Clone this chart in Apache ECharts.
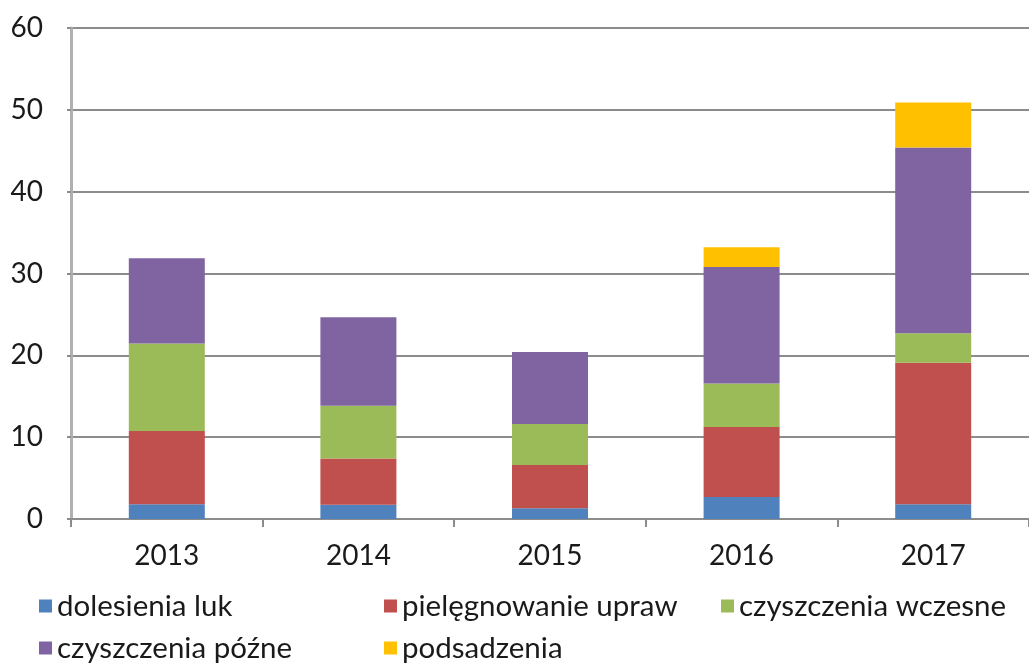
<!DOCTYPE html>
<html>
<head>
<meta charset="utf-8">
<script src="https://cdn.jsdelivr.net/npm/echarts@6/dist/echarts.min.js"></script>
<style>html,body{margin:0;padding:0;background:#fff}#c{width:1029px;height:666px}</style>
</head>
<body>
<div id="c"></div>
<script>
const categories = ['2013', '2014', '2015', '2016', '2017'];
const seriesNames = ['dolesienia luk', 'pielęgnowanie upraw', 'czyszczenia wczesne', 'czyszczenia późne', 'podsadzenia'];
const dolesieniaLuk = [1.8, 1.75, 1.3, 2.7, 1.8];
const pielegnowanieUpraw = [8.95, 5.65, 5.3, 8.55, 17.3];
const czyszczeniaWczesne = [10.7, 6.45, 5.0, 5.3, 3.6];
const czyszczeniaPozne = [10.4, 10.8, 8.8, 14.25, 22.7];
const podsadzenia = [0, 0, 0, 2.4, 5.5];
const yTicks = [0, 10, 20, 30, 40, 50, 60];

const colors = ['#4F81BD', '#C0504D', '#9BBB59', '#8064A2', '#FFC000'];
const values = [dolesieniaLuk, pielegnowanieUpraw, czyszczeniaWczesne, czyszczeniaPozne, podsadzenia];
const font = 'Lato, "DejaVu Sans", sans-serif';

const legendPos = [
  {left: 39, top: 591}, {left: 384, top: 591}, {left: 721, top: 591},
  {left: 39, top: 633}, {left: 384, top: 633}
];

const chart = echarts.init(document.getElementById('c'), null, {renderer: 'canvas'});
chart.setOption({
  animation: false,
  backgroundColor: '#ffffff',
  color: colors,
  grid: {left: 71, right: -9, top: 28, bottom: 147},
  legend: seriesNames.map((n, i) => ({
    data: [n], left: legendPos[i].left, top: legendPos[i].top,
    itemWidth: 13, itemHeight: 13, icon: 'rect', itemGap: 0,
    textStyle: {fontFamily: font, fontSize: 29.5, color: '#1a1a1a', lineHeight: 30},
    padding: 0
  })),
  xAxis: {
    type: 'category', data: categories,
    axisLine: {show: true, lineStyle: {color: '#8c8c8c', width: 2}},
    axisTick: {show: true, length: 8, lineStyle: {color: '#8c8c8c', width: 2}},
    axisLabel: {fontFamily: font, fontSize: 28, color: '#1a1a1a', margin: 23}
  },
  yAxis: {
    type: 'value', min: yTicks[0], max: yTicks[yTicks.length - 1], interval: 10,
    axisLine: {show: true, lineStyle: {color: '#b0b0b0', width: 3}},
    axisTick: {show: true, length: 4, lineStyle: {color: '#8c8c8c', width: 2}},
    splitLine: {show: true, lineStyle: {color: '#8c8c8c', width: 2}},
    axisLabel: {fontFamily: font, fontSize: 28, color: '#1a1a1a', margin: 28}
  },
  series: seriesNames.map((n, i) => ({
    name: n, type: 'bar', stack: 'total', barWidth: 76,
    data: values[i], itemStyle: {color: colors[i]}
  }))
});
</script>
</body>
</html>
